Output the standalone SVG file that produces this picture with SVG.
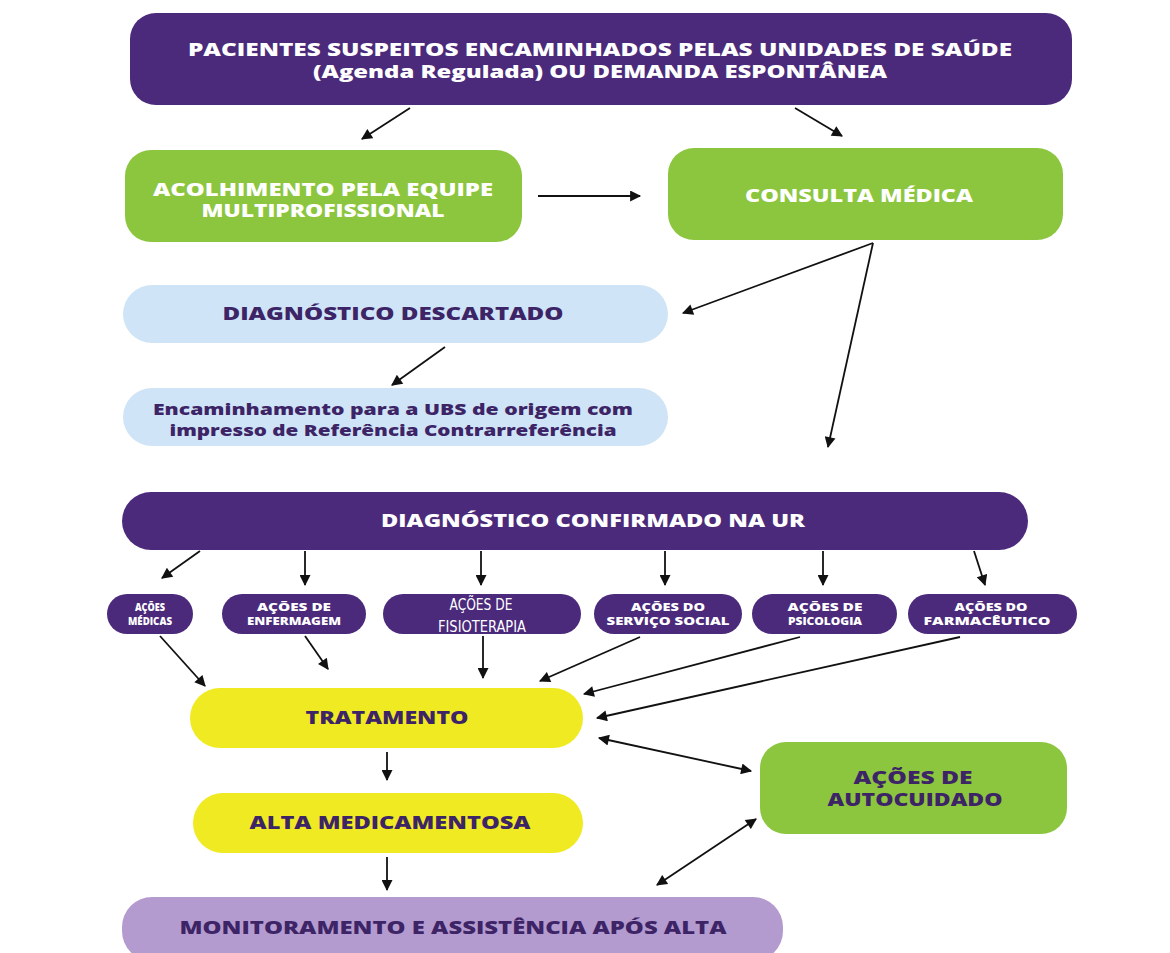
<svg xmlns="http://www.w3.org/2000/svg" width="1170" height="953" viewBox="0 0 1170 953">
<defs>
<marker id="ahb" viewBox="0 0 10 10" refX="9" refY="5" markerWidth="12" markerHeight="11" markerUnits="userSpaceOnUse" orient="auto-start-reverse">
<path d="M0,0 L10,5 L0,10 z" fill="#111"/>
</marker>
<style>
.purple{fill:#4b2a7b}
.green{fill:#8cc63e}
.blue{fill:#cfe4f6}
.yellow{fill:#f0ea22}
.lav{fill:#b49bcf}
text{font-family:"Open Sans","Liberation Sans",sans-serif;font-weight:800;text-anchor:middle}
.w{fill:#ffffff}
.d{fill:#3d2466}
.s{font-size:11px}
.cond{font-family:"DejaVu Sans Condensed","Liberation Sans",sans-serif;font-weight:normal;font-size:15px}
.c line{stroke:#111;stroke-width:1.8;marker-end:url(#ahb)}
.c line.dbl{marker-start:url(#ahb)}
</style>
</defs>
<rect width="1170" height="953" fill="#ffffff"/>

<g id="n-pacientes">
<rect class="purple" x="130" y="13" width="942" height="92" rx="26"/>
<text class="w" x="600" y="56" font-size="17" textLength="824" lengthAdjust="spacingAndGlyphs">PACIENTES SUSPEITOS ENCAMINHADOS PELAS UNIDADES DE SAÚDE</text>
<text class="w" x="600" y="78" font-size="17" textLength="574" lengthAdjust="spacingAndGlyphs">(Agenda Regulada) OU DEMANDA ESPONTÂNEA</text>
</g>

<g id="n-acolhimento">
<rect class="green" x="125" y="150" width="397" height="92" rx="26"/>
<text class="w" x="323" y="196" font-size="17" textLength="340" lengthAdjust="spacingAndGlyphs">ACOLHIMENTO PELA EQUIPE</text>
<text class="w" x="323" y="217" font-size="17" textLength="243" lengthAdjust="spacingAndGlyphs">MULTIPROFISSIONAL</text>
</g>

<g id="n-consulta">
<rect class="green" x="668" y="148" width="395" height="92" rx="26"/>
<text class="w" x="859" y="202" font-size="17" textLength="228" lengthAdjust="spacingAndGlyphs">CONSULTA MÉDICA</text>
</g>

<g id="n-descartado">
<rect class="blue" x="123" y="285" width="545" height="58" rx="29"/>
<text class="d" x="393" y="320" font-size="17" textLength="341" lengthAdjust="spacingAndGlyphs">DIAGNÓSTICO DESCARTADO</text>
</g>

<g id="n-encaminhamento">
<rect class="blue" x="123" y="388" width="545" height="58" rx="29"/>
<text class="d" x="393" y="415" font-size="16" textLength="480" lengthAdjust="spacingAndGlyphs">Encaminhamento para a UBS de origem com</text>
<text class="d" x="393" y="436" font-size="16" textLength="447" lengthAdjust="spacingAndGlyphs">impresso de Referência Contrarreferência</text>
</g>

<g id="n-confirmado">
<rect class="purple" x="122" y="492" width="906" height="58" rx="29"/>
<text class="w" x="593" y="527" font-size="17" textLength="424" lengthAdjust="spacingAndGlyphs">DIAGNÓSTICO CONFIRMADO NA UR</text>
</g>

<g id="n-medicas">
<rect class="purple" x="107" y="594" width="86" height="40" rx="20"/>
<text class="w s" x="150" y="611" textLength="30" lengthAdjust="spacingAndGlyphs">AÇÕES</text>
<text class="w s" x="150" y="625" textLength="44" lengthAdjust="spacingAndGlyphs">MÉDICAS</text>
</g>

<g id="n-enfermagem">
<rect class="purple" x="222" y="594" width="144" height="40" rx="20"/>
<text class="w s" x="294" y="611" textLength="74" lengthAdjust="spacingAndGlyphs">AÇÕES DE</text>
<text class="w s" x="294" y="625" textLength="94" lengthAdjust="spacingAndGlyphs">ENFERMAGEM</text>
</g>

<g id="n-fisioterapia">
<rect class="purple" x="383" y="594" width="198" height="40" rx="20"/>
<text class="w cond" x="481" y="610" textLength="63" lengthAdjust="spacingAndGlyphs">AÇÕES DE</text>
<text class="w cond" x="482" y="632" textLength="88" lengthAdjust="spacingAndGlyphs">FISIOTERAPIA</text>
</g>

<g id="n-social">
<rect class="purple" x="594" y="594" width="148" height="40" rx="20"/>
<text class="w s" x="668" y="611" textLength="74" lengthAdjust="spacingAndGlyphs">AÇÕES DO</text>
<text class="w s" x="668" y="625" textLength="123" lengthAdjust="spacingAndGlyphs">SERVIÇO SOCIAL</text>
</g>

<g id="n-psicologia">
<rect class="purple" x="752" y="594" width="145" height="40" rx="20"/>
<text class="w s" x="825" y="611" textLength="75" lengthAdjust="spacingAndGlyphs">AÇÕES DE</text>
<text class="w s" x="825" y="625" textLength="74" lengthAdjust="spacingAndGlyphs">PSICOLOGIA</text>
</g>

<g id="n-farmaceutico">
<rect class="purple" x="908" y="594" width="169" height="40" rx="20"/>
<text class="w s" x="991" y="611" textLength="73" lengthAdjust="spacingAndGlyphs">AÇÕES DO</text>
<text class="w s" x="987" y="625" textLength="127" lengthAdjust="spacingAndGlyphs">FARMACÊUTICO</text>
</g>

<g id="n-tratamento">
<rect class="yellow" x="190" y="688" width="393" height="60" rx="30"/>
<text class="d" x="387" y="724" font-size="17" textLength="163" lengthAdjust="spacingAndGlyphs">TRATAMENTO</text>
</g>

<g id="n-autocuidado">
<rect class="green" x="760" y="742" width="307" height="92" rx="26"/>
<text class="d" x="913" y="784" font-size="17" textLength="119" lengthAdjust="spacingAndGlyphs">AÇÕES DE</text>
<text class="d" x="915" y="806" font-size="17" textLength="175" lengthAdjust="spacingAndGlyphs">AUTOCUIDADO</text>
</g>

<g id="n-alta">
<rect class="yellow" x="193" y="793" width="390" height="60" rx="30"/>
<text class="d" x="390" y="829" font-size="17" textLength="281" lengthAdjust="spacingAndGlyphs">ALTA MEDICAMENTOSA</text>
</g>

<g id="n-monitoramento">
<rect class="lav" x="122" y="897" width="661" height="64" rx="30"/>
<text class="d" x="453" y="934" font-size="17" textLength="547" lengthAdjust="spacingAndGlyphs">MONITORAMENTO E ASSISTÊNCIA APÓS ALTA</text>
</g>

<g id="connectors" class="c">
<line x1="410" y1="108" x2="362" y2="139"/>
<line x1="795" y1="108" x2="842" y2="136"/>
<line x1="538" y1="196" x2="640" y2="196"/>
<line x1="873" y1="243" x2="683" y2="313"/>
<line x1="873" y1="243" x2="828" y2="447"/>
<line x1="445" y1="347" x2="392" y2="385"/>
<line x1="200" y1="551" x2="162" y2="578"/>
<line x1="305" y1="551" x2="305" y2="585"/>
<line x1="481" y1="551" x2="481" y2="585"/>
<line x1="665" y1="551" x2="665" y2="585"/>
<line x1="823" y1="551" x2="823" y2="585"/>
<line x1="974" y1="551" x2="985" y2="585"/>
<line x1="160" y1="636" x2="205" y2="686"/>
<line x1="305" y1="636" x2="328" y2="669"/>
<line x1="483" y1="636" x2="483" y2="678"/>
<line x1="640" y1="637" x2="540" y2="681"/>
<line x1="800" y1="637" x2="584" y2="694"/>
<line x1="960" y1="637" x2="597" y2="718"/>
<line class="dbl" x1="599" y1="738" x2="751" y2="771"/>
<line x1="387" y1="752" x2="387" y2="780"/>
<line x1="387" y1="857" x2="387" y2="890"/>
<line class="dbl" x1="756" y1="819" x2="657" y2="885"/>
</g>
</svg>
